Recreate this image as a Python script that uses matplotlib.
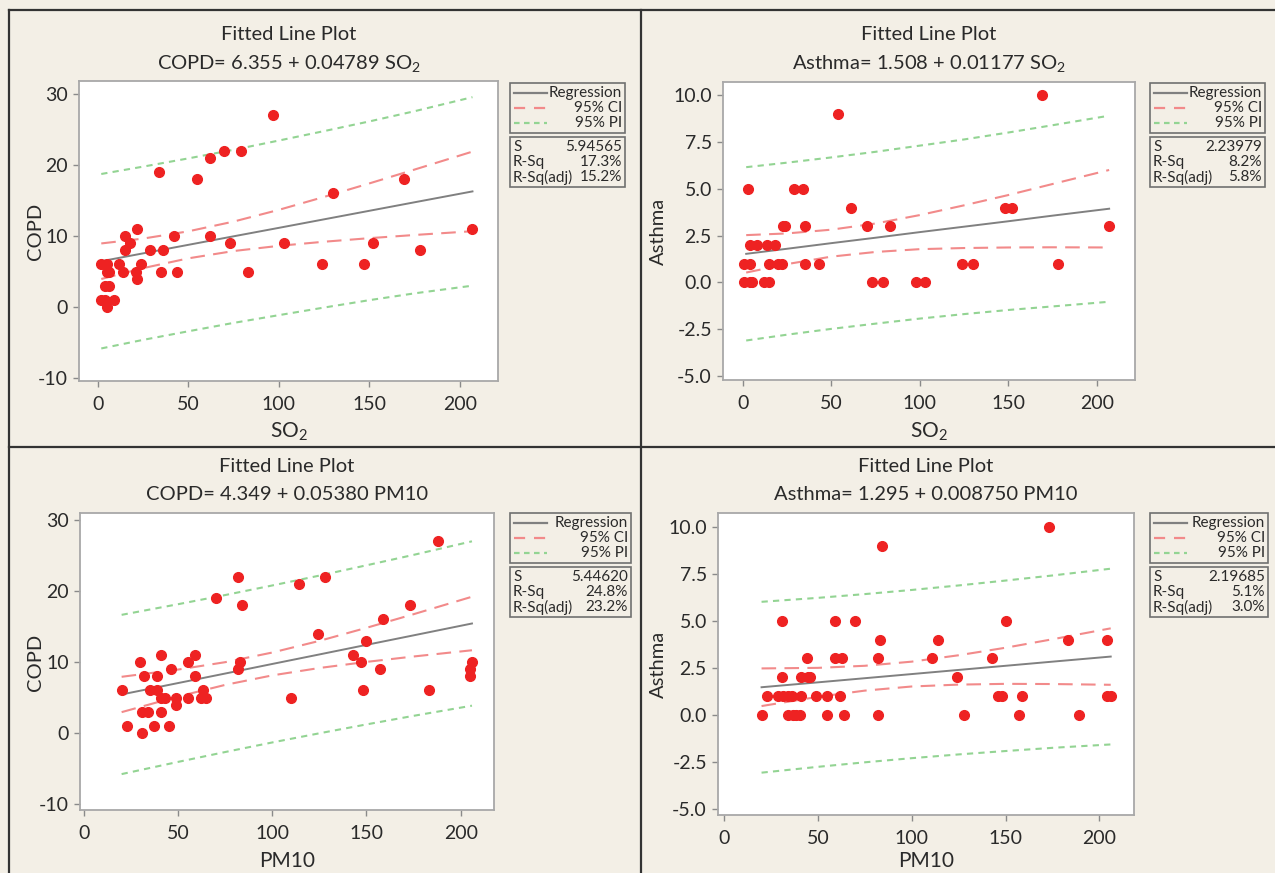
import matplotlib as mpl
mpl.use('Agg')
import matplotlib.pyplot as plt
from matplotlib.patches import Rectangle
from matplotlib.lines import Line2D

plt.rcParams['font.family'] = ['Lato', 'DejaVu Sans']
plt.rcParams['mathtext.fontset'] = 'custom'
plt.rcParams['mathtext.rm'] = 'Lato'
plt.rcParams['mathtext.it'] = 'Lato'
plt.rcParams['axes.unicode_minus'] = False

# ---- data ----
# COPD vs SO2
so2_a = [97, 34, 55, 62, 70, 79, 169, 130, 207, 22, 15, 42, 62, 18, 73, 103, 152,
         15, 29, 36, 178, 2, 5, 12, 24, 124, 147, 5, 14, 21, 35, 44, 83, 22, 4, 6,
         2, 4, 9, 5, 6]
copd_so2 = [27, 19, 18, 21, 22, 22, 18, 16, 11, 11, 10, 10, 10, 9, 9, 9, 9,
            8, 8, 8, 8, 6, 6, 6, 6, 6, 6, 5, 5, 5, 5, 5, 5, 4, 3, 3,
            1, 1, 1, 0, 5]

# Asthma vs SO2
so2_b = [169, 54, 3, 29, 34, 61, 148, 152, 23, 24, 35, 70, 83, 207, 4, 8, 14, 18,
         1, 4, 15, 20, 22, 35, 43, 124, 130, 178, 1, 4, 5, 12, 15, 73, 79, 98, 103]
asthma_so2 = [10, 9, 5, 5, 5, 4, 4, 4, 3, 3, 3, 3, 3, 3, 2, 2, 2, 2,
              1, 1, 1, 1, 1, 1, 1, 1, 1, 1, 0, 0, 0, 0, 0, 0, 0, 0, 0]

# COPD vs PM10
pm10_a = [188, 82, 128, 114, 70, 84, 173, 159, 124, 150, 41, 59, 143, 30, 55, 83,
          147, 206, 46, 82, 157, 205, 32, 39, 59, 205, 20, 35, 39, 63, 148, 183,
          41, 43, 49, 55, 62, 65, 110, 49, 31, 34, 41, 23, 37, 45, 31]
copd_pm10 = [27, 22, 22, 21, 19, 18, 18, 16, 14, 13, 11, 11, 11, 10, 10, 10,
             10, 10, 9, 9, 9, 9, 8, 8, 8, 8, 6, 6, 6, 6, 6, 6,
             5, 5, 5, 5, 5, 5, 5, 4, 3, 3, 3, 1, 1, 1, 0]

# Asthma vs PM10
pm10_b = [173, 84, 31, 59, 70, 150, 83, 114, 183, 204, 44, 59, 63, 82, 111, 143,
          31, 41, 45, 46, 124, 23, 29, 31.5, 34, 36, 41, 49, 55, 62, 146, 148,
          159, 204, 206, 20, 34, 36.5, 38.5, 40.5, 55, 64, 82, 128, 157, 189]
asthma_pm10 = [10, 9, 5, 5, 5, 5, 4, 4, 4, 4, 3, 3, 3, 3, 3, 3,
               2, 2, 2, 2, 2, 1, 1, 1, 1, 1, 1, 1, 1, 1, 1, 1,
               1, 1, 1, 0, 0, 0, 0, 0, 0, 0, 0, 0, 0, 0]

# fitted line and bands, read at a few x positions
grid_so2 = [2, 25, 50, 75, 100, 125, 150, 175, 207]
fit_a = [6.45, 7.55, 8.75, 9.95, 11.14, 12.34, 13.54, 14.74, 16.27]
ci_hi_a = [8.95, 9.63, 10.65, 12.02, 13.67, 15.49, 17.39, 19.34, 21.87]
ci_lo_a = [3.95, 5.47, 6.85, 7.88, 8.61, 9.19, 9.69, 10.14, 10.67]
pi_hi_a = [18.72, 19.75, 20.91, 22.12, 23.42, 24.75, 26.11, 27.55, 29.53]
pi_lo_a = [-5.82, -4.62, -3.41, -2.23, -1.14, -0.07, 0.97, 1.93, 3.01]

fit_b = [1.53, 1.80, 2.10, 2.39, 2.69, 2.98, 3.27, 3.57, 3.94]
ci_hi_b = [2.53, 2.62, 2.82, 3.15, 3.60, 4.12, 4.67, 5.26, 6.01]
ci_lo_b = [0.53, 0.98, 1.38, 1.63, 1.78, 1.84, 1.87, 1.88, 1.87]
pi_hi_b = [6.16, 6.40, 6.68, 6.98, 7.31, 7.64, 8.01, 8.40, 8.91]
pi_lo_b = [-3.10, -2.79, -2.48, -2.20, -1.93, -1.69, -1.47, -1.28, -1.03]

grid_pm10 = [20, 50, 75, 100, 125, 150, 175, 206]
fit_c = [5.43, 7.04, 8.38, 9.73, 11.07, 12.42, 13.76, 15.43]
ci_hi_c = [7.92, 8.94, 9.98, 11.34, 12.98, 14.82, 16.74, 19.20]
ci_lo_c = [2.94, 5.14, 6.78, 8.12, 9.16, 10.02, 10.78, 11.66]
pi_hi_c = [16.65, 18.15, 19.44, 20.79, 22.18, 23.63, 25.10, 27.01]
pi_lo_c = [-5.79, -4.07, -2.68, -1.33, -0.04, 1.21, 2.42, 3.85]

fit_d = [1.47, 1.73, 1.95, 2.17, 2.39, 2.61, 2.83, 3.10]
ci_hi_d = [2.47, 2.50, 2.61, 2.83, 3.17, 3.57, 4.02, 4.60]
ci_lo_d = [0.47, 0.96, 1.29, 1.51, 1.61, 1.65, 1.64, 1.60]
pi_hi_d = [6.01, 6.22, 6.42, 6.64, 6.88, 7.14, 7.41, 7.77]
pi_lo_d = [-3.07, -2.76, -2.52, -2.30, -2.10, -1.92, -1.75, -1.57]

stats_a = ['5.94565', '17.3%', '15.2%']
stats_b = ['2.23979', '8.2%', '5.8%']
stats_c = ['5.44620', '24.8%', '23.2%']
stats_d = ['2.19685', '5.1%', '3.0%']

# ---- figure ----
W, H = 1275, 873
BG = '#f3efe6'
PT_COL = '#ee2222'
REG_COL = '#808080'
CI_COL = '#f28a8a'
PI_COL = '#93d493'
TXT = '#2a2a2a'

fig = plt.figure(figsize=(W / 100, H / 100), dpi=100, facecolor=BG)


def fx(px):
    return px / W


def fy(py):
    return 1 - py / H


def fline(x0, y0, x1, y1, **kw):
    fig.add_artist(Line2D([fx(x0), fx(x1)], [fy(y0), fy(y1)],
                          transform=fig.transFigure, **kw))


def make_ax(box, xlim, ylim, yticks, yfmt):
    l, t, r, b = box
    ax = fig.add_axes([fx(l), fy(b), (r - l) / W, (b - t) / H])
    ax.set_facecolor('white')
    ax.set_xlim(*xlim)
    ax.set_ylim(*ylim)
    ax.set_xticks([0, 50, 100, 150, 200])
    ax.set_yticks(yticks)
    ax.set_yticklabels([yfmt % v for v in yticks])
    for s in ax.spines.values():
        s.set_color('#a8a8a8')
        s.set_linewidth(1.3)
    ax.tick_params(colors='#8a8a8a', labelcolor=TXT, labelsize=14,
                   length=4, width=1)
    ax.tick_params(axis='x', pad=7)
    ax.tick_params(axis='y', pad=4)
    return ax


def draw(ax, x, y, gx, fit, cl, ch, pl, ph):
    ax.plot(gx, ph, color=PI_COL, lw=1.5, dashes=(3, 2.5))
    ax.plot(gx, pl, color=PI_COL, lw=1.5, dashes=(3, 2.5))
    ax.plot(gx, ch, color=CI_COL, lw=1.5, dashes=(7, 4))
    ax.plot(gx, cl, color=CI_COL, lw=1.5, dashes=(7, 4))
    ax.plot(gx, fit, color=REG_COL, lw=1.4)
    ax.plot(x, y, 'o', color=PT_COL, ms=7, mec=PT_COL, zorder=5)


def legend(x0, y0, x1, stats):
    fig.add_artist(Rectangle((fx(x0), fy(y0 + 50)), (x1 - x0) / W, 50 / H,
                             transform=fig.transFigure, fill=False,
                             ec='#707070', lw=1.2))
    fig.add_artist(Rectangle((fx(x0), fy(y0 + 104)), (x1 - x0) / W, 50 / H,
                             transform=fig.transFigure, fill=False,
                             ec='#707070', lw=1.2))
    rows = [('Regression', REG_COL, None), ('95% CI', CI_COL, (5, 4)),
            ('95% PI', PI_COL, (2.5, 2))]
    for i, (lab, c, d) in enumerate(rows):
        yy = y0 + 10 + 15 * i
        kw = dict(color=c, lw=1.6)
        if d:
            kw['dashes'] = d
        fline(x0 + 4, yy, x0 + 37, yy, **kw)
        fig.text(fx(x1 - 3), fy(yy), lab, ha='right', va='center',
                 fontsize=11, color=TXT)
    names = ['S', 'R-Sq', 'R-Sq(adj)']
    for i, (n, v) in enumerate(zip(names, stats)):
        yy = y0 + 64 + 15 * i
        fig.text(fx(x0 + 3), fy(yy), n, ha='left', va='center',
                 fontsize=11, color=TXT)
        fig.text(fx(x1 - 3), fy(yy), v, ha='right', va='center',
                 fontsize=11, color=TXT)


ytk_copd = [-10, 0, 10, 20, 30]
ytk_ast = [-5.0, -2.5, 0.0, 2.5, 5.0, 7.5, 10.0]

ax1 = make_ax((79, 81, 498, 381), (-10.3, 221.1), (-10.4, 31.8), ytk_copd, '%d')
draw(ax1, so2_a, copd_so2, grid_so2, fit_a, ci_lo_a, ci_hi_a, pi_lo_a, pi_hi_a)

ax2 = make_ax((723, 82, 1135, 380), (-11.1, 221.6), (-5.21, 10.71), ytk_ast, '%.1f')
draw(ax2, so2_b, asthma_so2, grid_so2, fit_b, ci_lo_b, ci_hi_b, pi_lo_b, pi_hi_b)

ax3 = make_ax((80, 513, 494, 810), (-2.1, 217.7), (-10.85, 31.0), ytk_copd, '%d')
draw(ax3, pm10_a, copd_pm10, grid_pm10, fit_c, ci_lo_c, ci_hi_c, pi_lo_c, pi_hi_c)

ax4 = make_ax((718, 513, 1134, 815), (-3.2, 218.4), (-5.32, 10.73), ytk_ast, '%.1f')
draw(ax4, pm10_b, asthma_pm10, grid_pm10, fit_d, ci_lo_d, ci_hi_d, pi_lo_d, pi_hi_d)

# titles
titles = [(289, 35, 63, 'COPD= 6.355 + 0.04789 SO$_2$'),
          (929, 35, 64, 'Asthma= 1.508 + 0.01177 SO$_2$'),
          (287, 467, 494, 'COPD= 4.349 + 0.05380 PM10'),
          (926, 467, 494, 'Asthma= 1.295 + 0.008750 PM10')]
for cx, y1, y2, eq in titles:
    fig.text(fx(cx), fy(y1), 'Fitted Line Plot', ha='center', va='center',
             fontsize=14.5, color=TXT)
    fig.text(fx(cx), fy(y2), eq, ha='center', va='center',
             fontsize=14.5, color=TXT)

# axis labels
fig.text(fx(289), fy(432), 'SO$_2$', ha='center', va='center', fontsize=15, color=TXT)
fig.text(fx(929), fy(432), 'SO$_2$', ha='center', va='center', fontsize=15, color=TXT)
fig.text(fx(287), fy(861), 'PM10', ha='center', va='center', fontsize=15, color=TXT)
fig.text(fx(926), fy(861), 'PM10', ha='center', va='center', fontsize=15, color=TXT)
fig.text(fx(35), fy(231), 'COPD', ha='center', va='center', rotation=90, fontsize=14.5, color=TXT)
fig.text(fx(658), fy(231), 'Asthma', ha='center', va='center', rotation=90, fontsize=14.5, color=TXT)
fig.text(fx(35), fy(662), 'COPD', ha='center', va='center', rotation=90, fontsize=14.5, color=TXT)
fig.text(fx(658), fy(664), 'Asthma', ha='center', va='center', rotation=90, fontsize=14.5, color=TXT)

# legends
legend(510, 83, 625, stats_a)
legend(1150, 83, 1265, stats_b)
legend(510, 513, 631, stats_c)
legend(1150, 513, 1268, stats_d)

# panel frame lines
frame = dict(color='#333333', lw=1.6)
fline(9, 10, W, 10, **frame)
fline(9, 10, 9, H, **frame)
fline(9, 447, W, 447, **frame)
fline(641, 10, 641, H, **frame)

fig.savefig('out.png', dpi=100, facecolor=BG)
